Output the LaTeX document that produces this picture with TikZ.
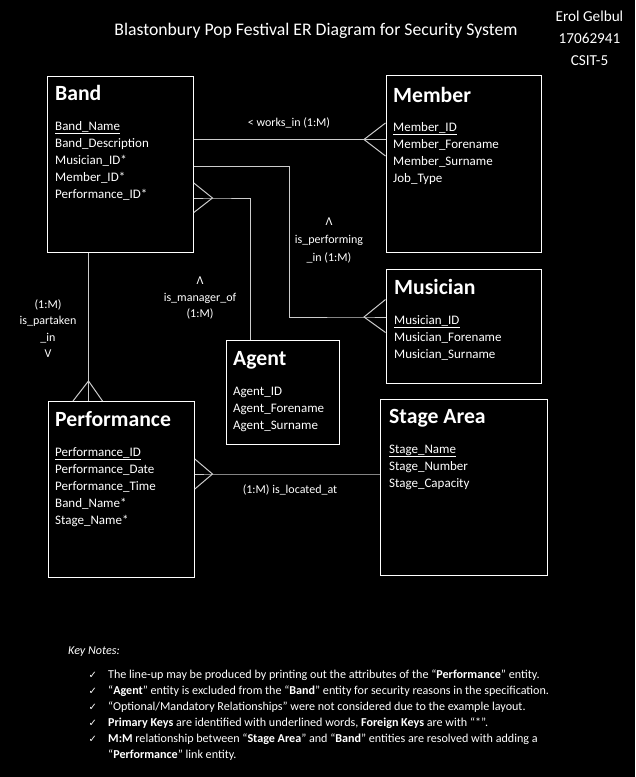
\documentclass[tikz,border=0pt]{standalone}
\usepackage{fontspec}
\setmainfont{Carlito}
\newfontfamily\djv{DejaVu Sans}
\begin{document}
\begin{tikzpicture}[x=1pt,y=-1pt,
  entity/.style={draw=white, line width=1.3pt, inner sep=0, anchor=north west},
  etitle/.style={font=\fontsize{21.7}{24}\selectfont\bfseries, text=white, anchor=base west, inner sep=0},
  attr/.style={font=\fontsize{13}{15}\selectfont, text=white, anchor=base west, inner sep=0},
  rel/.style={draw=white!80!black, line width=1pt},
  lbl/.style={font=\fontsize{12}{16.5}\selectfont, text=white, align=center, inner sep=0},
  note/.style={font=\fontsize{12.1}{14}\selectfont, text=white, anchor=base west, inner sep=0},
  tick/.style={font=\djv\fontsize{10}{12}\selectfont, text=white, anchor=base west, inner sep=0},
  hdr/.style={font=\fontsize{15.2}{17}\selectfont, text=white, anchor=base, inner sep=0}
]
\fill[black] (0,0) rectangle (635,777);
\useasboundingbox (0,0) rectangle (635,777);

% title and author
\node[font=\fontsize{17.7}{20}\selectfont, text=white, anchor=base, inner sep=0] (title) at (316,35) {Blastonbury Pop Festival ER Diagram for Security System};
\node[hdr] (author) at (589.5,21.7) {Erol Gelbul};
\node[hdr] (sid) at (589.5,43.3) {17062941};
\node[hdr] (course) at (589.5,65) {CSIT-5};

% entity boxes
\node[entity, minimum width=146pt, minimum height=176pt] (band) at (46.5,76) {};
\node[entity, minimum width=155.5pt, minimum height=177pt] (member) at (385.5,75) {};
\node[entity, minimum width=155.5pt, minimum height=114pt] (musician) at (385.5,269) {};
\node[entity, minimum width=113pt, minimum height=104pt] (agent) at (225.5,340) {};
\node[entity, minimum width=146pt, minimum height=176pt] (perf) at (47.5,401) {};
\node[entity, minimum width=166.5pt, minimum height=176pt] (stage) at (380,399) {};

% Band
\node[etitle] (bandT) at (55,100) {Band};
\node[attr] (bandA1) at (55,130) {\underline{Band\_Name}};
\node[attr] (bandA2) at (55,147) {Band\_Description};
\node[attr] (bandA3) at (55,164) {Musician\_ID*};
\node[attr] (bandA4) at (55,181) {Member\_ID*};
\node[attr] (bandA5) at (55,198) {Performance\_ID*};

% Member
\node[etitle] (memT) at (393,102) {Member};
\node[attr] (memA1) at (393,131) {\underline{Member\_ID}};
\node[attr] (memA2) at (393,148) {Member\_Forename};
\node[attr] (memA3) at (393,165) {Member\_Surname};
\node[attr] (memA4) at (393,182) {Job\_Type};

% Musician
\node[etitle] (musT) at (394,294) {Musician};
\node[attr] (musA1) at (394,324) {\underline{Musician\_ID}};
\node[attr] (musA2) at (394,341) {Musician\_Forename};
\node[attr] (musA3) at (394,358) {Musician\_Surname};

% Agent
\node[etitle] (agT) at (233,365) {Agent};
\node[attr] (agA1) at (233,395) {Agent\_ID};
\node[attr] (agA2) at (233,412) {Agent\_Forename};
\node[attr] (agA3) at (233,429) {Agent\_Surname};

% Performance
\node[etitle] (perfT) at (55,426) {Performance};
\node[attr] (perfA1) at (55,456) {\underline{Performance\_ID}};
\node[attr] (perfA2) at (55,473) {Performance\_Date};
\node[attr] (perfA3) at (55,490) {Performance\_Time};
\node[attr] (perfA4) at (55,507) {Band\_Name*};
\node[attr] (perfA5) at (55,524) {Stage\_Name*};

% Stage Area
\node[etitle] (stT) at (389,423) {Stage Area};
\node[attr] (stA1) at (389,453) {\underline{Stage\_Name}};
\node[attr] (stA2) at (389,470) {Stage\_Number};
\node[attr] (stA3) at (389,487) {Stage\_Capacity};

% works_in : Band -- Member (crow's foot at Member)
\coordinate (wj) at (364,139.5);
\draw[rel] (wj -| band.east) -- (wj) -- (wj -| member.west);
\draw[rel] (member.west |- 0,123) -- (wj) -- (member.west |- 0,156);
\node[lbl] (wlbl) at (289,123) {< works\_in (1:M)};

% is_performing_in : Band -- Musician (crow's foot at Musician)
\coordinate (pc1) at (289.5,166.5);
\coordinate (pj) at (364,317);
\draw[rel] (pc1 -| band.east) -- (pc1) -- (pc1 |- pj) -- (pj) -- (pj -| musician.west);
\draw[rel] (musician.west |- 0,299.5) -- (pj) -- (musician.west |- 0,332.5);
\node[lbl, font=\fontsize{12}{18}\selectfont] (plbl) at (329,240) {Λ\\is\_performing\\\_in (1:M)};

% is_manager_of : Band -- Agent (crow's foot at Band)
\coordinate (mj) at (212.5,198);
\coordinate (mc1) at (250,198);
\draw[rel] (band.east |- mj) -- (mj) -- (mc1) -- (mc1 |- agent.north);
\draw[rel] (band.east |- 0,183) -- (mj) -- (band.east |- 0,212.5);
\node[lbl] (mlbl) at (200,298) {Λ\\is\_manager\_of\\(1:M)};

% is_partaken_in : Band -- Performance (crow's foot at Performance)
\coordinate (tj) at (88.5,381);
\draw[rel] (tj |- band.south) -- (tj) -- (tj |- perf.north);
\draw[rel] (73,0 |- perf.north) -- (tj) -- (102.5,0 |- perf.north);
\node[lbl, font=\fontsize{12}{16.3}\selectfont] (tlbl) at (48,328.5) {(1:M)\\is\_partaken\\\_in\\V};

% is_located_at : Performance -- Stage Area (crow's foot at Performance)
\coordinate (lj) at (212.5,474);
\draw[rel] (stage.west |- lj) -- (lj) -- (lj -| perf.east);
\draw[rel] (perf.east |- 0,459) -- (lj) -- (perf.east |- 0,489);
\node[lbl] (llbl) at (290,490) {(1:M) is\_located\_at};

% key notes
\node[note, font=\fontsize{12.1}{14}\selectfont\itshape] (kn) at (68,654.5) {Key Notes:};
\node[tick] (t1) at (88.5,678.5) {✓};
\node[tick] (t2) at (88.5,694.5) {✓};
\node[tick] (t3) at (88.5,710.5) {✓};
\node[tick] (t4) at (88.5,726.5) {✓};
\node[tick] (t5) at (88.5,742.5) {✓};
\node[note] (n1) at (108,678.5) {The line-up may be produced by printing out the attributes of the “\textbf{Performance}” entity.};
\node[note] (n2) at (108,694.5) {“\textbf{Agent}” entity is excluded from the “\textbf{Band}” entity for security reasons in the specification.};
\node[note] (n3) at (108,710.5) {“Optional/Mandatory Relationships” were not considered due to the example layout.};
\node[note] (n4) at (108,726.5) {\textbf{Primary Keys} are identified with underlined words, \textbf{Foreign Keys} are with “*”.};
\node[note] (n5) at (108,742.5) {\textbf{M:M} relationship between “\textbf{Stage Area}” and “\textbf{Band}” entities are resolved with adding a};
\node[note] (n6) at (108,758.5) {“\textbf{Performance}” link entity.};
\end{tikzpicture}
\end{document}
